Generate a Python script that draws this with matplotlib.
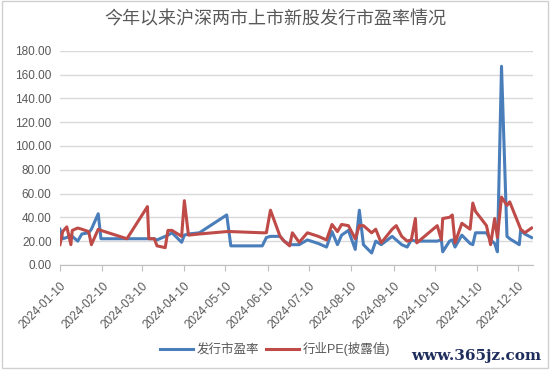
import matplotlib
matplotlib.use("Agg")
import matplotlib.pyplot as plt
import matplotlib.dates as mdates
from matplotlib.patches import Rectangle
import pandas as pd

plt.rcParams['font.family'] = ['Liberation Sans', 'Noto Sans CJK SC', 'DejaVu Sans']

# issue dates (2024) and the two P/E series
dates = [
    "01-10", "01-12", "01-15", "01-18", "01-19", "01-23", "01-26", "01-31",
    "02-02", "02-07", "02-09", "02-28", "03-14", "03-15", "03-19", "03-21",
    "03-27", "03-29", "04-01", "04-08", "04-10", "04-13", "04-21", "05-11",
    "05-14", "06-06", "06-09", "06-12", "06-19", "06-22", "06-26", "06-28",
    "07-03", "07-09", "07-17", "07-23", "07-27", "07-31", "08-03", "08-08",
    "08-13", "08-16", "08-19", "08-25", "08-28", "09-01", "09-09", "09-12",
    "09-16", "09-20", "09-23", "09-26", "09-27", "10-12", "10-15", "10-16",
    "10-21", "10-23", "10-25", "10-30", "11-05", "11-07", "11-09", "11-17",
    "11-20", "11-23", "11-25", "11-28", "12-02", "12-04", "12-11", "12-12",
    "12-15", "12-20",
]
issue_pe = [
    30, 22, 23, 25, 24, 20, 26, 27,
    30, 43, 22, 22, 22, 22, 22, 21,
    24, 25, 27, 19, 25, 26, 27, 42,
    16, 16, 23, 24, 24, 20, 17, 17,
    17, 21, 18, 15, 28, 17, 25, 29,
    13, 46, 17, 10, 20, 17, 24, 21,
    17, 15, 21, 20, 20, 20, 21, 11,
    20, 21, 15, 25, 18, 17, 27, 27,
    21, 18, 11, 167, 24, 22, 17, 29,
    26, 23,
]
industry_pe = [
    17, 28, 32, 17, 29, 31, 30, 28,
    17, 30, 29, 22, 49, 22, 22, 16,
    14.5, 29, 29, 24, 54, 25, 26, 28,
    28, 27, 27, 46, 24, 20, 16, 27,
    19, 27, 24, 21, 34, 28, 34, 33,
    22, 33, 33, 27, 30, 18.5, 30, 33,
    24, 20, 21, 39, 18.5, 33, 21, 39,
    40, 42, 18.5, 35, 30, 52, 45, 33,
    17, 39, 23, 57, 50, 53, 33, 30,
    27, 31,
]
tick_dates = ["2024-%02d-10" % m for m in range(1, 13)]

x = pd.to_datetime(["2024-" + d for d in dates])

fig = plt.figure(figsize=(5.5, 3.71), dpi=100)
ax = fig.add_axes([0.109, 0.286, 0.86, 0.577])

ax.plot(x, issue_pe, color="#4A7EBB", lw=2.2, label="发行市盈率", zorder=3)
ax.plot(x, industry_pe, color="#BE4B48", lw=2.2, label="行业PE(披露值)", zorder=3)

ax.set_ylim(0, 180)
ax.set_yticks(range(0, 181, 20))
ax.yaxis.set_major_formatter(matplotlib.ticker.FormatStrFormatter("%.2f"))
ax.set_xlim(pd.Timestamp("2024-01-10"), pd.Timestamp("2024-12-21"))
ax.set_xticks(pd.to_datetime(tick_dates))
ax.xaxis.set_major_formatter(mdates.DateFormatter("%Y-%m-%d"))

ax.grid(axis="y", color="#d9d9d9", lw=1)
ax.set_axisbelow(True)
for s in ["left", "right", "top"]:
    ax.spines[s].set_visible(False)
ax.spines["bottom"].set_color("#bfbfbf")
ax.tick_params(axis="y", length=0, labelsize=8.5, labelcolor="#595959", pad=6)
ax.tick_params(axis="x", length=4, color="#bfbfbf", labelsize=8.5, labelcolor="#595959", pad=7)
for lab in ax.get_xticklabels():
    lab.set_rotation(45)
    lab.set_ha("right")
    lab.set_rotation_mode("anchor")

fig.text(0.5, 0.948, "今年以来沪深两市上市新股发行市盈率情况", ha="center", va="center",
         fontsize=13, color="#595959", family=["Noto Sans CJK SC"])

leg = fig.legend(loc="center", bbox_to_anchor=(0.5, 0.058), ncol=2, frameon=False,
                 fontsize=9, handlelength=2.6, columnspacing=0.6, handletextpad=0.3)
for t in leg.get_texts():
    t.set_color("#595959")

fig.text(0.985, 0.04, "www.365jz.com", ha="right", va="center", fontsize=11,
         color="#1f2d5c", family="DejaVu Serif", weight="bold")

fig.patches.append(Rectangle((0.004, 0.008), 0.992, 0.988, transform=fig.transFigure,
                             fill=False, edgecolor="#d0d0d0", lw=1))

fig.savefig("out.png", dpi=100)
